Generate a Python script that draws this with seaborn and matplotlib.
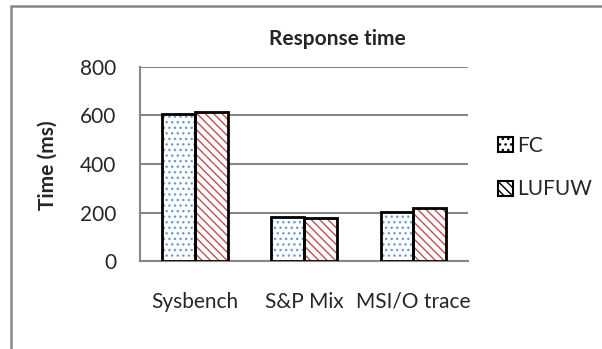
import pandas as pd
import seaborn as sns
import matplotlib.pyplot as plt
from matplotlib.patches import Rectangle, Patch

# data
workloads = ["Sysbench", "S&P Mix", "MSI/O trace"]
fc_values = [606, 183, 203]
lufuw_values = [613, 176, 220]
series_names = ["FC", "LUFUW"]

df = pd.DataFrame({
    "workload": workloads * 2,
    "time": fc_values + lufuw_values,
    "method": [series_names[0]] * 3 + [series_names[1]] * 3,
})

sns.set_style("white")
plt.rcParams["font.family"] = ["Lato", "DejaVu Sans"]
plt.rcParams["hatch.linewidth"] = 1.0

fig = plt.figure(figsize=(6.02, 3.49), dpi=100)
ax = fig.add_axes([0.2326, 0.2521, 0.545, 0.556])

hatch_colors = {"FC": "#6F9BD1", "LUFUW": "#C0504D"}
hatches = {"FC": "...", "LUFUW": "\\\\\\\\"}

sns.barplot(data=df, x="workload", y="time", hue="method", ax=ax,
            width=0.6, palette={"FC": "white", "LUFUW": "white"},
            legend=False, zorder=3)

# hatch colour follows edgecolor, so draw black outlines on top separately
for cont, name in zip(ax.containers, series_names):
    for bar in cont:
        bar.set_hatch(hatches[name])
        bar.set_edgecolor(hatch_colors[name])
        bar.set_linewidth(0)
        ax.add_patch(Rectangle(bar.get_xy(), bar.get_width(), bar.get_height(),
                               fill=False, edgecolor="black", lw=2, zorder=4))

ax.set_ylim(0, 800)
ax.set_yticks([0, 200, 400, 600, 800])
ax.yaxis.grid(True, color="#878787", lw=1.5, zorder=0)
ax.set_axisbelow(True)
for s in ["top", "right"]:
    ax.spines[s].set_visible(False)
for s in ["left", "bottom"]:
    ax.spines[s].set_color("#878787")
    ax.spines[s].set_linewidth(1.5)
ax.tick_params(axis="y", length=5, color="#878787", width=1.5, labelsize=15, pad=12)
ax.tick_params(axis="x", length=0, labelsize=15, pad=22)
ax.set_xlabel("")
ax.set_ylabel("")

fig.text(48 / 602, 1 - 165 / 349, "Time (ms)", rotation=90, ha="center",
         va="center", fontsize=15, fontweight="bold")
fig.text(0.561, 0.888, "Response time", ha="center", va="center",
         fontsize=15, fontweight="bold")

handles = [Patch(facecolor="white", edgecolor="black", hatch=hatches[n], lw=1.5)
           for n in series_names]
leg = fig.legend(handles, series_names, loc="center left",
                 bbox_to_anchor=(0.827, 0.52), frameon=False, fontsize=15,
                 handlelength=0.72, handleheight=0.72, handletextpad=0.2,
                 labelspacing=1.15, borderpad=0, borderaxespad=0)

# outer chart border (left and top edges visible)
fig.add_artist(Rectangle((0.018, -0.05), 1.1, 1.033, transform=fig.transFigure,
                         fill=False, edgecolor="#878787", lw=1.8))

fig.savefig("out.png", dpi=100)
